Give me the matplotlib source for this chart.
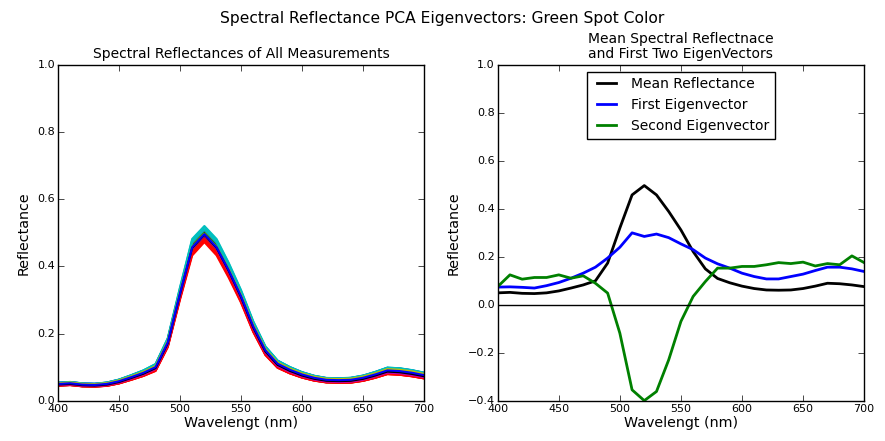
import numpy as np
from matplotlib import pyplot

# wavelengths (nm), 10 nm steps
wl = np.arange(400, 701, 10)

mean_refl = [0.050, 0.052, 0.048, 0.047, 0.050, 0.058, 0.070, 0.083, 0.100, 0.174, 0.320,
             0.458, 0.497, 0.458, 0.389, 0.312, 0.222, 0.150, 0.110, 0.092, 0.078,
             0.068, 0.062, 0.061, 0.062, 0.068, 0.078, 0.090, 0.088, 0.083, 0.076]
eig1 = [0.074, 0.075, 0.073, 0.070, 0.080, 0.093, 0.111, 0.132, 0.157, 0.195, 0.240,
        0.300, 0.285, 0.295, 0.280, 0.254, 0.230, 0.195, 0.171, 0.153, 0.132,
        0.118, 0.108, 0.108, 0.118, 0.128, 0.143, 0.157, 0.157, 0.150, 0.139]
eig2 = [0.076, 0.125, 0.107, 0.114, 0.114, 0.125, 0.111, 0.121, 0.090, 0.049, -0.118,
        -0.354, -0.399, -0.361, -0.229, -0.069, 0.035, 0.097, 0.153, 0.153, 0.160,
        0.160, 0.167, 0.176, 0.172, 0.178, 0.162, 0.172, 0.167, 0.204, 0.176]

# PCA scores of the individual measurements (first, second component), in measurement order
score1 = [-0.050, 0.036, -0.075, 0.068, -0.035, -0.002, 0.004, 0.044, -0.042, -0.066, 0.060,
          0.029, 0.010, -0.008, -0.021, 0.022, -0.058, 0.052, -0.028, 0.016, -0.014, 0.001]
score2 = [0.010, -0.006, 0.008, -0.010, 0.004, 0.012, -0.004, 0.006, -0.012, 0.002, -0.008,
          0.010, -0.002, 0.006, -0.010, 0.008, -0.006, 0.004, -0.008, 0.012, -0.004, 0.003]

mean_refl, eig1, eig2 = np.array(mean_refl), np.array(eig1), np.array(eig2)
measurements = [mean_refl + s1*eig1 + s2*eig2 for s1, s2 in zip(score1, score2)]

pyplot.style.use('classic')
pyplot.rcParams['font.family'] = 'DejaVu Sans'
fig = pyplot.figure(figsize=(8.85, 4.41), dpi=100, facecolor='white')
fig.suptitle('Spectral Reflectance PCA Eigenvectors: Green Spot Color', fontsize=11.2, y=0.975)

ax1 = fig.add_axes([0.0655, 0.091, 0.4136, 0.762])
colors = ['b', 'g', 'r', 'c', 'm', 'y', 'k']
for i, m in enumerate(measurements):
	ax1.plot(wl, m, color=colors[i % 7], lw=1.5)
ax1.set_xlim(400, 700)
ax1.set_ylim(0, 1.0)
ax1.set_title('Spectral Reflectances of All Measurements', fontsize=10)

ax2 = fig.add_axes([0.5624, 0.091, 0.414, 0.762])
ax2.plot(wl, mean_refl, color='k', lw=2, label='Mean Reflectance')
ax2.plot(wl, eig1, color='b', lw=2, label='First Eigenvector')
ax2.plot(wl, eig2, color='g', lw=2, label='Second Eigenvector')
ax2.axhline(0, color='k', lw=1)
ax2.set_xlim(400, 700)
ax2.set_ylim(-0.4, 1.0)
ax2.set_title('Mean Spectral Reflectnace\nand First Two EigenVectors', fontsize=10, linespacing=1.1)
leg = ax2.legend(loc='upper center', fontsize=10)

for ax in (ax1, ax2):
	ax.set_xticks(np.arange(400, 701, 50))
	ax.tick_params(labelsize=8, pad=2)
	ax.set_xlabel('Wavelengt (nm)', fontsize=10.3, labelpad=2)
	ax.set_ylabel('Reflectance', fontsize=10.3, labelpad=5)

pyplot.savefig('out.png', dpi=100, facecolor='white')
